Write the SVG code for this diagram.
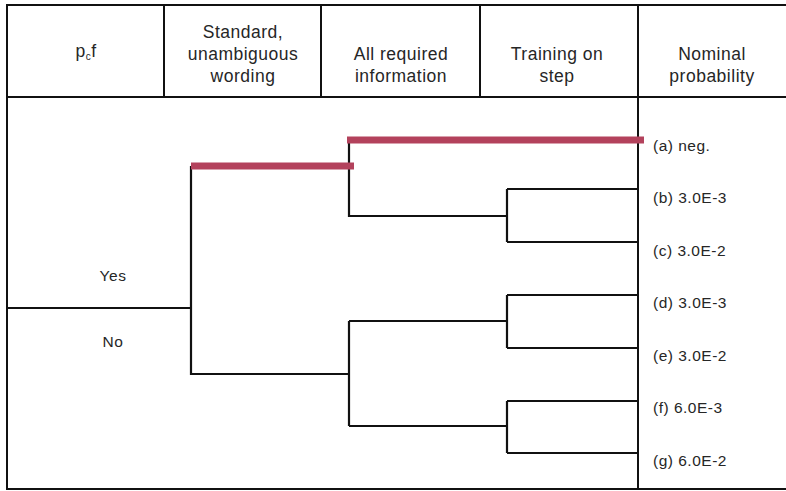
<svg xmlns="http://www.w3.org/2000/svg" width="786" height="491" viewBox="0 0 786 491">
<style>
text{font-family:"Liberation Sans",Arial,sans-serif;fill:#262626;letter-spacing:0.5px}
.hd{font-size:17.5px;text-anchor:middle}
.bd{font-size:15.5px}
.c{text-anchor:middle}
.grid{stroke:#111;stroke-width:2;fill:none}
.br{stroke:#111;stroke-width:2.2;fill:none}
.red{stroke:#b3425c;stroke-width:7;fill:none}
</style>
<rect width="786" height="491" fill="#fff"/>
<g id="table">
<rect class="grid" x="7" y="5" width="785" height="484" stroke-width="2.5"/>
<line class="grid" x1="7" y1="97" x2="786" y2="97"/>
<line class="grid" x1="164" y1="5" x2="164" y2="97"/>
<line class="grid" x1="321" y1="5" x2="321" y2="97"/>
<line class="grid" x1="480" y1="5" x2="480" y2="97"/>
<line class="grid" x1="638" y1="5" x2="638" y2="489"/>
</g>
<g id="header-pcf"><text class="hd" x="86" y="57">p<tspan font-size="10" dy="3">c</tspan><tspan dy="-3">f</tspan></text></g>
<g id="header-standard"><text class="hd" x="243" y="38">Standard,</text><text class="hd" x="243" y="60">unambiguous</text><text class="hd" x="243" y="82">wording</text></g>
<g id="header-info"><text class="hd" x="401" y="60">All required</text><text class="hd" x="401" y="82">information</text></g>
<g id="header-training"><text class="hd" x="557" y="60">Training on</text><text class="hd" x="557" y="82">step</text></g>
<g id="header-nominal"><text class="hd" x="712" y="60">Nominal</text><text class="hd" x="712" y="82">probability</text></g>
<g id="yes"><text class="bd c" x="113" y="281">Yes</text></g>
<g id="no"><text class="bd c" x="113" y="347">No</text></g>
<g id="connectors">
<path class="br" d="M7 308H191M191 166V374H349M349 140V216H507M507 189V242M507 189H638M507 242H638M349 321V426M349 321H507M349 426H507M507 295V348M507 295H638M507 348H638M507 401V453M507 401H638M507 453H638"/>
<line class="red" x1="191" y1="166" x2="354" y2="166"/>
<line class="red" x1="347" y1="140" x2="644" y2="140"/>
</g>
<g id="a"><text class="bd" x="653" y="151">(a) neg.</text></g>
<g id="b"><text class="bd" x="653" y="203">(b) 3.0E-3</text></g>
<g id="c"><text class="bd" x="653" y="256">(c) 3.0E-2</text></g>
<g id="d"><text class="bd" x="653" y="308">(d) 3.0E-3</text></g>
<g id="e"><text class="bd" x="653" y="361">(e) 3.0E-2</text></g>
<g id="f"><text class="bd" x="653" y="413">(f) 6.0E-3</text></g>
<g id="g"><text class="bd" x="653" y="466">(g) 6.0E-2</text></g>
</svg>
